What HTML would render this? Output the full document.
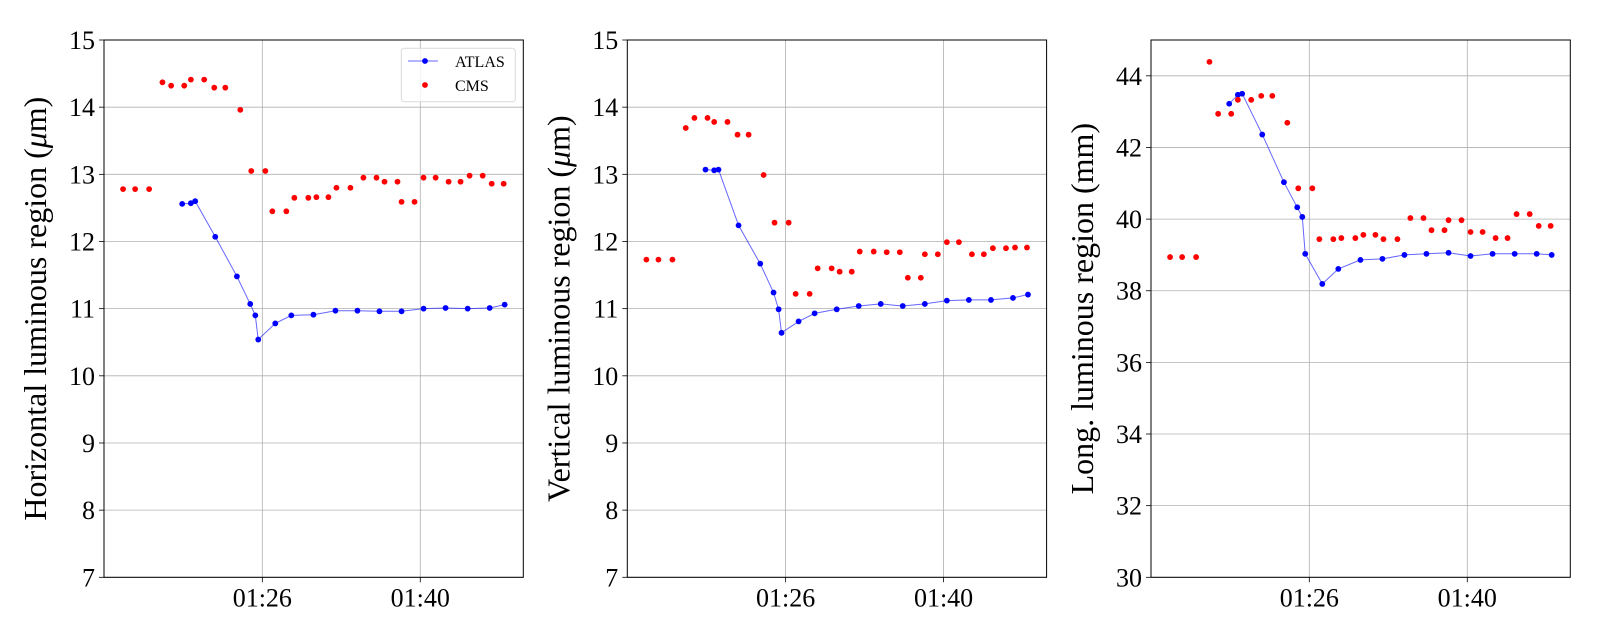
<!DOCTYPE html>
<html><head><meta charset="utf-8"><style>
html,body{margin:0;padding:0;background:#fff}
svg{display:block;font-family:"Liberation Serif","DejaVu Serif",serif}
</style></head><body>
<svg id="fig" width="1600" height="640" viewBox="0 0 1600 640" xmlns="http://www.w3.org/2000/svg"></svg>
<script>
// Times in minutes after 01:00
const cmsTimes = [13.66,14.73,15.97,17.15,17.92,19.08,19.67,20.85,21.74,22.72,24.05,25.02,26.27,26.89,28.13,28.84,30.08,30.79,31.86,32.57,33.81,34.96,36.12,36.83,37.98,38.34,39.49,40.29,41.36,42.51,43.57,44.37,45.53,46.33,47.39];
const atlasTimes = [18.90,19.67,20.05,21.83,23.75,24.93,25.38,25.64,27.15,28.57,30.53,32.48,34.43,36.38,38.34,40.29,42.24,44.20,46.15,47.48];
const cmsH = [12.78,12.78,12.78,14.37,14.32,14.32,14.41,14.41,14.29,14.29,13.96,13.05,13.05,12.45,12.45,12.65,12.65,12.66,12.66,12.80,12.80,12.95,12.95,12.89,12.89,12.59,12.59,12.95,12.95,12.89,12.89,12.98,12.98,12.86,12.86];
const atlasH = [12.56,12.57,12.60,12.07,11.48,11.07,10.90,10.54,10.78,10.90,10.91,10.97,10.97,10.96,10.96,11.00,11.01,11.00,11.01,11.06];
const cmsV = [11.73,11.73,11.73,13.69,13.84,13.84,13.78,13.78,13.59,13.59,12.99,12.28,12.28,11.22,11.22,11.60,11.60,11.55,11.55,11.85,11.85,11.84,11.84,11.46,11.46,11.81,11.81,11.99,11.99,11.81,11.81,11.90,11.90,11.91,11.91];
const atlasV = [13.07,13.06,13.07,12.24,11.67,11.24,10.99,10.64,10.81,10.93,10.99,11.04,11.07,11.04,11.07,11.12,11.13,11.13,11.16,11.21];
const cmsL = [38.94,38.94,38.94,44.39,42.94,42.94,43.33,43.33,43.44,43.44,42.69,40.86,40.86,39.44,39.44,39.47,39.47,39.56,39.56,39.44,39.44,40.03,40.03,39.69,39.69,39.97,39.97,39.64,39.64,39.47,39.47,40.14,40.14,39.81,39.81];
const atlasL = [43.22,43.47,43.50,42.36,41.03,40.33,40.06,39.03,38.19,38.61,38.86,38.89,39.00,39.03,39.06,38.97,39.03,39.03,39.03,39.00];
const xTickValues = [26, 40];
const xTickLabels = ["01:26", "01:40"];
const yTicksH = [7,8,9,10,11,12,13,14,15];
const yTicksL = [30,32,34,36,38,40,42,44];

const NS = "http://www.w3.org/2000/svg";
const svg = document.getElementById('fig');
function mk(tag, attrs, parent){
  const e = document.createElementNS(NS, tag);
  for (const k in attrs) e.setAttribute(k, attrs[k]);
  (parent||svg).appendChild(e);
  return e;
}
const plotTop = 40, plotBottom = 577.3, W = 419.3, xMin = 11.97, xMax = 49.13;

function panel(idx, left, yMin, yMax, yTicks, label, italicMu, cms, atlas, legend){
  const g = mk('g', {});
  
  
  const xs = t => left + (t - xMin) / (xMax - xMin) * W;
  const ys = v => plotBottom - (v - yMin) / (yMax - yMin) * (plotBottom - plotTop);
  yTicks.forEach(v => {
    const l = mk('line', {x1:left, x2:left+W, y1:ys(v), y2:ys(v), stroke:'#b0b0b0', 'stroke-width':0.8}, g);
    
    
    const tk = mk('line', {x1:left-5, x2:left, y1:ys(v), y2:ys(v), stroke:'#000', 'stroke-width':0.8}, g);
    
    
    const tx = mk('text', {x:left-9, y:ys(v)+9, 'text-anchor':'end', 'font-size':26}, g);
    tx.textContent = v;
    
    
  });
  xTickValues.forEach((t,i) => {
    const l = mk('line', {x1:xs(t), x2:xs(t), y1:plotTop, y2:plotBottom, stroke:'#b0b0b0', 'stroke-width':0.8}, g);
    
    
    const tk = mk('line', {x1:xs(t), x2:xs(t), y1:plotBottom, y2:plotBottom+5, stroke:'#000', 'stroke-width':0.8}, g);
    
    
    const tx = mk('text', {x:xs(t), y:plotBottom+29, 'text-anchor':'middle', 'font-size':26}, g);
    tx.textContent = xTickLabels[i];
    
    
  });
  const pts = atlas.map((v,i) => xs(atlasTimes[i]).toFixed(1) + ',' + ys(v).toFixed(1)).join(' ');
  const pl = mk('polyline', {points:pts, fill:'none', stroke:'#0000ff', 'stroke-opacity':0.6, 'stroke-width':1}, g);
  
  
  atlas.forEach((v,i) => {
    const c = mk('circle', {cx:xs(atlasTimes[i]), cy:ys(v), r:2.9, fill:'#0000ff'}, g);
    
    
  });
  cms.forEach((v,i) => {
    const c = mk('circle', {cx:xs(cmsTimes[i]), cy:ys(v), r:2.9, fill:'#ff0000'}, g);
    
    
  });
  const fr = mk('rect', {x:left, y:plotTop, width:W, height:plotBottom-plotTop, fill:'none', stroke:'#000', 'stroke-width':1}, g);
  
  
  const cx = left - 58, cy = (plotTop+plotBottom)/2;
  const yl = mk('text', {x:cx, y:cy, 'text-anchor':'middle', 'font-size':32, transform:`rotate(-90 ${cx} ${cy})`}, g);
  
  
  if (italicMu) {
    yl.appendChild(document.createTextNode(label + ' ('));
    const ts = mk('tspan', {'font-style':'italic'}, yl);
    ts.textContent = 'μ';
    yl.appendChild(document.createTextNode('m)'));
  } else yl.textContent = label;
  if (legend) {
    const lg = mk('g', {}, g);
    
    
    mk('rect', {x:401.3, y:48.3, width:114, height:53.4, rx:3, fill:'#fff', 'fill-opacity':0.8, stroke:'#d9d9d9', 'stroke-width':1}, lg);
    const ll = mk('line', {x1:408, x2:438, y1:61, y2:61, stroke:'#0000ff', 'stroke-opacity':0.6, 'stroke-width':1}, lg);
    
    
    mk('circle', {cx:425, cy:61, r:2.9, fill:'#0000ff'}, lg);
    const t1 = mk('text', {x:455, y:67, 'font-size':16}, lg);
    t1.textContent = 'ATLAS';
    
    
    mk('circle', {cx:425, cy:85, r:2.9, fill:'#ff0000'}, lg);
    const t2 = mk('text', {x:455, y:91, 'font-size':16}, lg);
    t2.textContent = 'CMS';
    
    
  }
}
panel(0, 104, 7, 15, yTicksH, 'Horizontal luminous region', true, cmsH, atlasH, true);
panel(1, 627.3, 7, 15, yTicksH, 'Vertical luminous region', true, cmsV, atlasV, false);
panel(2, 1151, 30, 45, yTicksL, 'Long. luminous region (mm)', false, cmsL, atlasL, false);
</script>
</body></html>
